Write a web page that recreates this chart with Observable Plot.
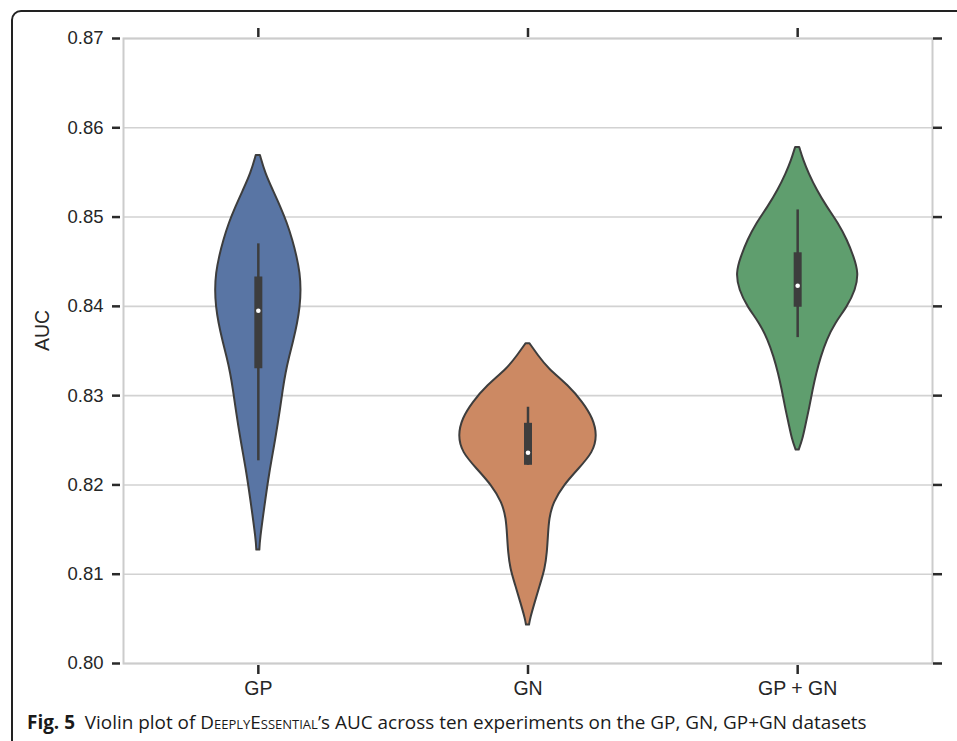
<!DOCTYPE html>
<html>
<head>
<meta charset="utf-8">
<script src="https://cdn.jsdelivr.net/npm/d3@7"></script>
<script src="https://cdn.jsdelivr.net/npm/@observablehq/plot@0.6"></script>
<style>
  html, body { margin: 0; padding: 0; background: #fff; }
  #wrap { position: relative; width: 957px; height: 741px; overflow: hidden; }
  #border { position: absolute; left: 11px; top: 10px; width: 1000px; height: 800px;
            border: 2px solid #222; border-radius: 10px; pointer-events: none; }
  #caption { position: absolute; left: 27px; top: 713px; white-space: nowrap;
             font-family: "Open Sans", "Noto Sans", sans-serif; font-size: 16px; line-height: 1; color: #1a1a1a; }
  #caption b { font-weight: 700; }
  .sc { font-variant: small-caps; }
</style>
</head>
<body>
<div id="wrap">
  <div id="chart"></div>
  <div id="caption"><b>Fig. 5</b>&nbsp; Violin plot of <span class="sc">DeeplyEssential</span>’s AUC across ten experiments on the GP, GN, GP+GN datasets</div>
  <div id="border"></div>
</div>
<script>
// ---- data ----
const categories = ["GP", "GN", "GP + GN"];
const colors = ["#5975a4", "#cc8963", "#5f9e6e"];

// violin outlines: AUC value and relative density (1 = widest violin)
const gpAuc = [0.8569, 0.8549, 0.8530, 0.8511, 0.8493, 0.8474, 0.8455, 0.8437, 0.8418, 0.8399, 0.8381, 0.8362, 0.8343, 0.8325, 0.8306, 0.8287, 0.8250, 0.8213, 0.8175, 0.8138, 0.8127];
const gpDensity = [0.030, 0.103, 0.213, 0.324, 0.419, 0.496, 0.559, 0.603, 0.618, 0.603, 0.566, 0.512, 0.449, 0.397, 0.357, 0.324, 0.250, 0.162, 0.093, 0.029, 0.022];

const gnAuc = [0.8358, 0.8345, 0.8330, 0.8311, 0.8292, 0.8274, 0.8255, 0.8236, 0.8218, 0.8199, 0.8180, 0.8162, 0.8143, 0.8124, 0.8106, 0.8087, 0.8068, 0.8050, 0.8043];
const gnDensity = [0.029, 0.147, 0.294, 0.588, 0.794, 0.941, 1.000, 0.941, 0.735, 0.515, 0.368, 0.309, 0.294, 0.279, 0.250, 0.176, 0.103, 0.037, 0.022];

const gpgnAuc = [0.8578, 0.8563, 0.8549, 0.8530, 0.8511, 0.8493, 0.8474, 0.8455, 0.8437, 0.8418, 0.8399, 0.8381, 0.8362, 0.8343, 0.8325, 0.8306, 0.8287, 0.8269, 0.8250, 0.8239];
const gpgnDensity = [0.029, 0.088, 0.162, 0.279, 0.426, 0.588, 0.716, 0.813, 0.882, 0.838, 0.716, 0.544, 0.422, 0.338, 0.275, 0.221, 0.176, 0.125, 0.074, 0.022];

// inner box plot statistics
const whiskerLow  = [0.8227, 0.8222, 0.8365];
const q1          = [0.8330, 0.8222, 0.8399];
const median      = [0.8395, 0.8236, 0.8423];
const q3          = [0.8433, 0.8269, 0.8460];
const whiskerHigh = [0.8470, 0.8287, 0.8508];

const yTicks = [0.80, 0.81, 0.82, 0.83, 0.84, 0.85, 0.86, 0.87];

// ---- build tables ----
const profiles = [[gpAuc, gpDensity], [gnAuc, gnDensity], [gpgnAuc, gpgnDensity]];
const maxHalf = 0.258; // half-width of the widest violin, in category units
const xTicks = categories.map((c, i) => i + 0.5);
const stats = categories.map((c, i) => ({
  i, cat: c, lo: whiskerLow[i], q1: q1[i], med: median[i], q3: q3[i], hi: whiskerHigh[i]
}));

const violinMarks = profiles.map(([auc, dens], i) => {
  const rows = auc.map((a, k) => ({auc: a, d: dens[k]}));
  return Plot.areaX(rows, {
    y: "auc",
    x1: r => i + 0.5 - r.d * maxHalf,
    x2: r => i + 0.5 + r.d * maxHalf,
    fill: colors[i],
    stroke: "#3d3d3d",
    strokeWidth: 2,
    strokeLinejoin: "round",
    curve: "basis"
  });
});

const tickColor = "#2a2a2a";

const chart = Plot.plot({
  width: 957,
  height: 705,
  marginLeft: 123,
  marginRight: 25,
  marginTop: 38,
  marginBottom: 42,
  style: {fontFamily: "'Liberation Sans', Arial, sans-serif", fontSize: "18px", color: "#262626", background: "transparent", overflow: "visible"},
  x: {domain: [0, 3]},
  y: {domain: [0.80, 0.87]},
  marks: [
    Plot.ruleY(yTicks, {stroke: "#d2d2d2", strokeWidth: 1.6}),
    Plot.frame({stroke: "#cccccc", strokeWidth: 2}),
    ...violinMarks,
    Plot.ruleX(stats, {x: d => d.i + 0.5, y1: "lo", y2: "hi", stroke: "#3d3d3d", strokeWidth: 2.5}),
    Plot.ruleX(stats, {x: d => d.i + 0.5, y1: "q1", y2: "q3", stroke: "#3d3d3d", strokeWidth: 8}),
    Plot.dot(stats, {x: d => d.i + 0.5, y: "med", r: 2.3, fill: "white", stroke: null}),
    Plot.axisY(yTicks, {anchor: "left", tickSize: 8, tickPadding: 9, dx: -3, strokeWidth: 2.5, stroke: tickColor, tickFormat: d3.format(".2f"), label: null, fontSize: 18.5}),
    Plot.axisY(yTicks, {anchor: "right", tickSize: 9, strokeWidth: 2.5, stroke: tickColor, tickFormat: () => "", label: null}),
    Plot.axisX(xTicks, {anchor: "top", tickSize: 9, dy: -2, strokeWidth: 2.5, stroke: tickColor, tickFormat: () => "", label: null}),
    Plot.axisX(xTicks, {anchor: "bottom", tickSize: 9, dy: 2, tickPadding: 7, strokeWidth: 2.5, stroke: tickColor, tickFormat: d => categories[Math.floor(d)], label: null, fontSize: 19.5}),
    Plot.text(["AUC"], {frameAnchor: "left", dx: -81, rotate: -90, fontSize: 19.5, fill: "#262626"})
  ]
});
document.getElementById("chart").appendChild(chart);

// fit caption to its width in the reference
const cap = document.getElementById("caption");
const w = cap.getBoundingClientRect().width;
cap.style.fontSize = (16 * 840 / w).toFixed(2) + "px";
</script>
</body>
</html>
